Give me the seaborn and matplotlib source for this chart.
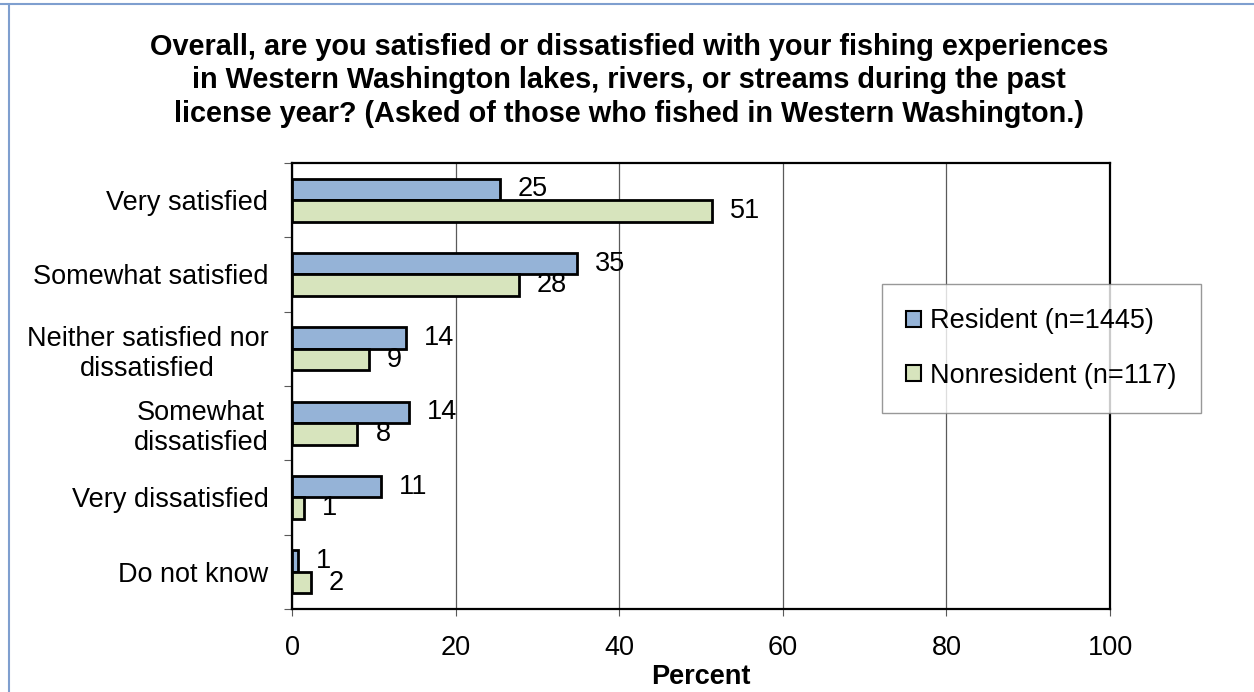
import numpy as np
import pandas as pd
import seaborn as sns
import matplotlib.pyplot as plt
from matplotlib.patches import Patch
from matplotlib.lines import Line2D

# veriler (resimden okunan yüzdeler)
categories = ["Very satisfied", "Somewhat satisfied", "Neither satisfied nor\ndissatisfied",
              "Somewhat\ndissatisfied", "Very dissatisfied", "Do not know"]
resident = [25.4, 34.8, 13.9, 14.3, 10.9, 0.7]
nonresident = [51.3, 27.7, 9.4, 8.0, 1.4, 2.3]
series_names = ["Resident (n=1445)", "Nonresident (n=117)"]
x_ticks = [0, 20, 40, 60, 80, 100]
title = ("Overall, are you satisfied or dissatisfied with your fishing experiences\n"
         "in Western Washington lakes, rivers, or streams during the past\n"
         "license year? (Asked of those who fished in Western Washington.)")

df = pd.DataFrame({
    "category": categories * 2,
    "group": [series_names[0]] * len(categories) + [series_names[1]] * len(categories),
    "value": resident + nonresident,
})

sns.set_style("white")
plt.rcParams['font.family'] = ['Liberation Sans', 'DejaVu Sans']
plt.rcParams['text.color'] = 'black'
plt.rcParams['axes.labelcolor'] = 'black'
plt.rcParams['xtick.color'] = 'black'
plt.rcParams['ytick.color'] = 'black'

colors = ["#95B3D7", "#D7E4BD"]
fs = 19.5

fig = plt.figure(figsize=(12.54, 6.92), dpi=100)
ax = fig.add_axes([0.2329, 0.12, 0.6523, 0.6445])

sns.barplot(data=df, y="category", x="value", hue="group", orient="h",
            palette=colors, saturation=1, width=0.58, edgecolor="black",
            linewidth=2.0, ax=ax, legend=False, zorder=3)

# değer etiketleri
for cont, vals in zip(ax.containers, [resident, nonresident]):
    ax.bar_label(cont, labels=[f"{round(v)}" for v in vals], padding=13,
                 fontsize=fs, color="black")

ax.set_xlim(0, 100)
ax.set_ylim(5.5, -0.5)
ax.set_xticks(x_ticks)
ax.set_xticklabels([str(t) for t in x_ticks], fontsize=fs)
ax.xaxis.grid(True, color="#5a5a5a", linewidth=0.9, zorder=0)
ax.yaxis.grid(False)
ax.tick_params(axis="x", direction="out", length=5, width=0.8, color="#5a5a5a",
               labelcolor="black", bottom=True, pad=14)
ax.tick_params(axis="y", which="major", length=0, pad=17, labelsize=fs,
               labelcolor="black")
ax.set_yticks(np.arange(-0.5, 6, 1), minor=True)
ax.tick_params(axis="y", which="minor", direction="out", length=6, width=0.8,
               color="#5a5a5a", left=True)
for lab in ax.get_yticklabels():
    lab.set_multialignment("center")
for s in ax.spines.values():
    s.set_color("black")
    s.set_linewidth(1.6)
ax.set_ylabel("")
ax.set_xlabel("Percent", fontsize=fs, fontweight="bold", labelpad=2)

fig.text(0.5016, 0.884, title, ha="center", va="center", fontsize=20.8,
         fontweight="bold", linespacing=1.24, color="black")

# gösterge
handles = [Patch(facecolor=c, edgecolor="black", linewidth=1.5) for c in colors]
leg = ax.legend(handles, series_names, loc="upper left",
                bbox_to_anchor=(0.703, 0.5896), bbox_transform=fig.transFigure,
                fontsize=fs, frameon=True, fancybox=False, handlelength=0.55,
                handleheight=0.55, handletextpad=0.35, labelspacing=1.05,
                borderpad=0.9, borderaxespad=0)
leg.get_frame().set_edgecolor("#7f7f7f")
leg.get_frame().set_linewidth(1.0)

# dış çerçeve çizgileri
fig.add_artist(Line2D([0.0072, 0.0072], [0, 0.994], transform=fig.transFigure,
                      color="#7F9FCF", linewidth=1.5))
fig.add_artist(Line2D([0, 1], [0.994, 0.994], transform=fig.transFigure,
                      color="#7F9FCF", linewidth=1.5))

fig.savefig("out.png", dpi=100)
